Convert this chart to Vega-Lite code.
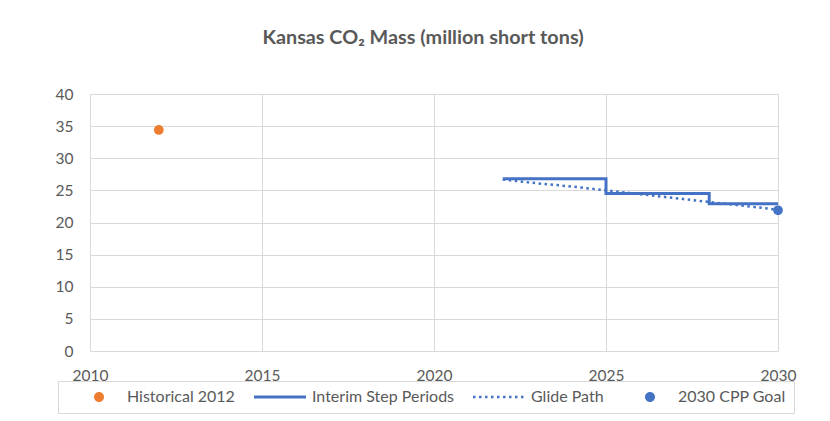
{
  "$schema": "https://vega.github.io/schema/vega-lite/v6.json",
  "width": 688,
  "height": 257,
  "autosize": "none",
  "padding": {"left": 90, "top": 94, "right": 52, "bottom": 70},
  "background": "white",
  "config": {
    "view": {"stroke": null},
    "font": "Lato",
    "axis": {
      "domain": false,
      "ticks": false,
      "grid": true,
      "gridColor": "#d9d9d9",
      "gridWidth": 1,
      "labelFont": "Lato",
      "labelFontSize": 15.5,
      "labelColor": "#595959",
      "title": null
    }
  },
  "title": {
    "text": "Kansas CO₂ Mass (million short tons)",
    "font": "Lato",
    "fontSize": 19.8,
    "fontWeight": "bold",
    "color": "#595959",
    "anchor": "middle",
    "dx": -11,
    "offset": 39
  },
  "data": {
    "values": [
      {"series": "Historical 2012", "year": 2012, "value": 34.4},
      {"series": "Interim Step Periods", "year": 2022, "value": 26.8},
      {"series": "Interim Step Periods", "year": 2025, "value": 24.5},
      {"series": "Interim Step Periods", "year": 2028, "value": 22.9},
      {"series": "Interim Step Periods", "year": 2030, "value": 22.9},
      {"series": "Glide Path", "year": 2022, "value": 26.7},
      {"series": "Glide Path", "year": 2023, "value": 26.1},
      {"series": "Glide Path", "year": 2024, "value": 25.6},
      {"series": "Glide Path", "year": 2025, "value": 25.0},
      {"series": "Glide Path", "year": 2026, "value": 24.4},
      {"series": "Glide Path", "year": 2027, "value": 23.8},
      {"series": "Glide Path", "year": 2028, "value": 23.2},
      {"series": "Glide Path", "year": 2029, "value": 22.6},
      {"series": "Glide Path", "year": 2030, "value": 22.0},
      {"series": "2030 CPP Goal", "year": 2030, "value": 21.9}
    ]
  },
  "encoding": {
    "x": {
      "field": "year",
      "type": "quantitative",
      "scale": {"domain": [2010, 2030], "nice": false, "zero": false},
      "axis": {"values": [2010, 2015, 2020, 2025, 2030], "format": "d", "labelPadding": 17, "labelFlush": false, "labelOverlap": false}
    },
    "y": {
      "field": "value",
      "type": "quantitative",
      "scale": {"domain": [0, 40], "nice": false},
      "axis": {"values": [0, 5, 10, 15, 20, 25, 30, 35, 40], "labelPadding": 17}
    },
    "color": {
      "field": "series",
      "type": "nominal",
      "scale": {
        "domain": ["Historical 2012", "Interim Step Periods", "Glide Path", "2030 CPP Goal"],
        "range": ["#ED7D31", "#4472C4", "#4472C4", "#4472C4"]
      },
      "legend": {
        "title": null,
        "orient": "none",
        "direction": "horizontal",
        "legendX": -32,
        "legendY": 287,
        "padding": 8,
        "columnPadding": 13,
        "strokeColor": "#d9d9d9",
        "fillColor": "white",
        "symbolSize": 100,
        "labelOffset": 45,
        "labelFont": "Lato",
        "labelFontSize": 16,
        "labelColor": "#595959",
        "encode": {
          "symbols": {
            "update": {
              "shape": {"signal": "indexof(['Interim Step Periods','Glide Path'], datum.value) >= 0 ? 'M-1,0H9.4' : 'M4,0A1,1,0,1,1,6,0A1,1,0,1,1,4,0Z'"},
              "fill": {"signal": "indexof(['Interim Step Periods','Glide Path'], datum.value) >= 0 ? 'transparent' : scale('color', datum.value)"},
              "stroke": {"signal": "scale('color', datum.value)"},
              "strokeWidth": {"signal": "datum.value === 'Interim Step Periods' ? 3 : (datum.value === 'Glide Path' ? 2.5 : 0)"},
              "strokeDash": {"signal": "datum.value === 'Glide Path' ? [2.5, 3.5] : [1, 0]"},
              "size": {"value": 100},
              "opacity": {"value": 1}
            }
          }
        }
      }
    }
  },
  "layer": [
    {
      "transform": [{"filter": "datum.series === 'Historical 2012'"}],
      "mark": {"type": "point", "filled": true, "size": 95, "opacity": 1, "shape": "circle"}
    },
    {
      "transform": [{"filter": "datum.series === 'Interim Step Periods'"}],
      "mark": {"type": "line", "interpolate": "step-after", "strokeWidth": 3}
    },
    {
      "transform": [{"filter": "datum.series === 'Glide Path'"}],
      "mark": {"type": "line", "strokeWidth": 2.5, "strokeDash": [2.5, 3.5]}
    },
    {
      "transform": [{"filter": "datum.series === '2030 CPP Goal'"}],
      "mark": {"type": "point", "filled": true, "size": 95, "opacity": 1, "shape": "circle"}
    }
  ]
}
